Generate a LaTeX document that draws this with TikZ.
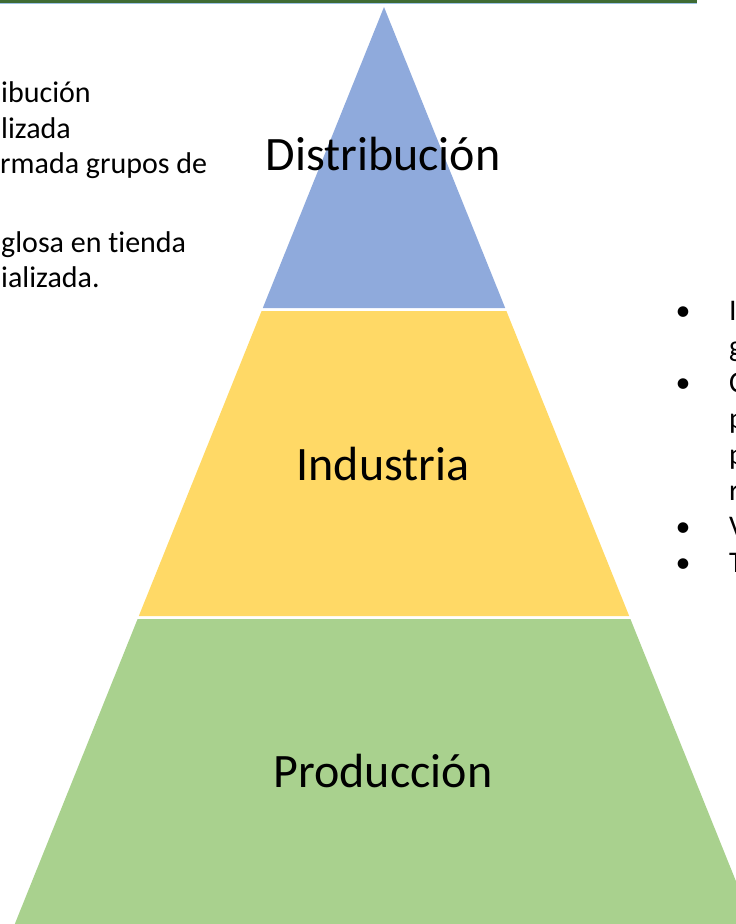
\documentclass[tikz,border=0pt]{standalone}
\usepackage{fontspec}
\setmainfont{Carlito}[Ligatures={NoCommon}]
\usepackage{tikz}
\usetikzlibrary{positioning,calc}

\definecolor{distblue}{HTML}{8FAADC}
\definecolor{indyellow}{HTML}{FFD966}
\definecolor{prodgreen}{HTML}{A9D18E}
\definecolor{bargreen}{HTML}{3F6B33}
\definecolor{barshade}{HTML}{9DC3E6}

\begin{document}
\begin{tikzpicture}[
    x=1pt, y=-1pt,
    tag/.style={font=\fontsize{48}{57}\selectfont, anchor=base, inner sep=0pt},
    note/.style={font=\fontsize{30}{36}\selectfont, anchor=base west, inner sep=0pt},
    dot/.style={font=\fontsize{30}{36}\selectfont, anchor=base, inner sep=0pt}
]
\useasboundingbox (0,0) rectangle (736,924);

% top bar
\fill[barshade] (0,2.5) rectangle (697,3.6);
\fill[bargreen] (0,0) rectangle (697,2.6);

% pyramid layers
\coordinate (apex) at (384,7);
\fill[distblue] (apex) -- (262.8,308) -- (505.2,308) -- cycle;
\fill[indyellow] (261.6,311) -- (138.8,616) -- (629.2,616) -- (506.4,311) -- cycle;
\fill[prodgreen] (137.6,619) -- (14.8,924) -- (753.2,924) -- (630.4,619) -- cycle;

\node[tag] (dist) at (383,170) {Distribución};
\node[tag] (ind) at (383,480) {Industria};
\node[tag] (prod) at (383,787) {Producción};

% left notes
\node[note] (l1) at (1,102) {ibución};
\node[note] (l2) at (1,138) {lizada};
\node[note] (l3) at (0,173) {rmada grupos de};
\node[note] (l4) at (1,252) {glosa en tienda};
\node[note] (l5) at (1,287) {ializada.};

% right notes
\node[dot] (b1) at (683,320) {•};
\node[note] (r1) at (729,320) {I};
\node[note] (r2) at (729,356) {g};
\node[dot] (b2) at (683,392) {•};
\node[note] (r3) at (729,392) {C};
\node[note] (r4) at (729,428) {p};
\node[note] (r5) at (729,464) {p};
\node[note] (r6) at (729,500) {r};
\node[dot] (b3) at (683,536) {•};
\node[note] (r7) at (729,536) {V};
\node[dot] (b4) at (683,572) {•};
\node[note] (r8) at (729,572) {T};
\end{tikzpicture}
\end{document}
